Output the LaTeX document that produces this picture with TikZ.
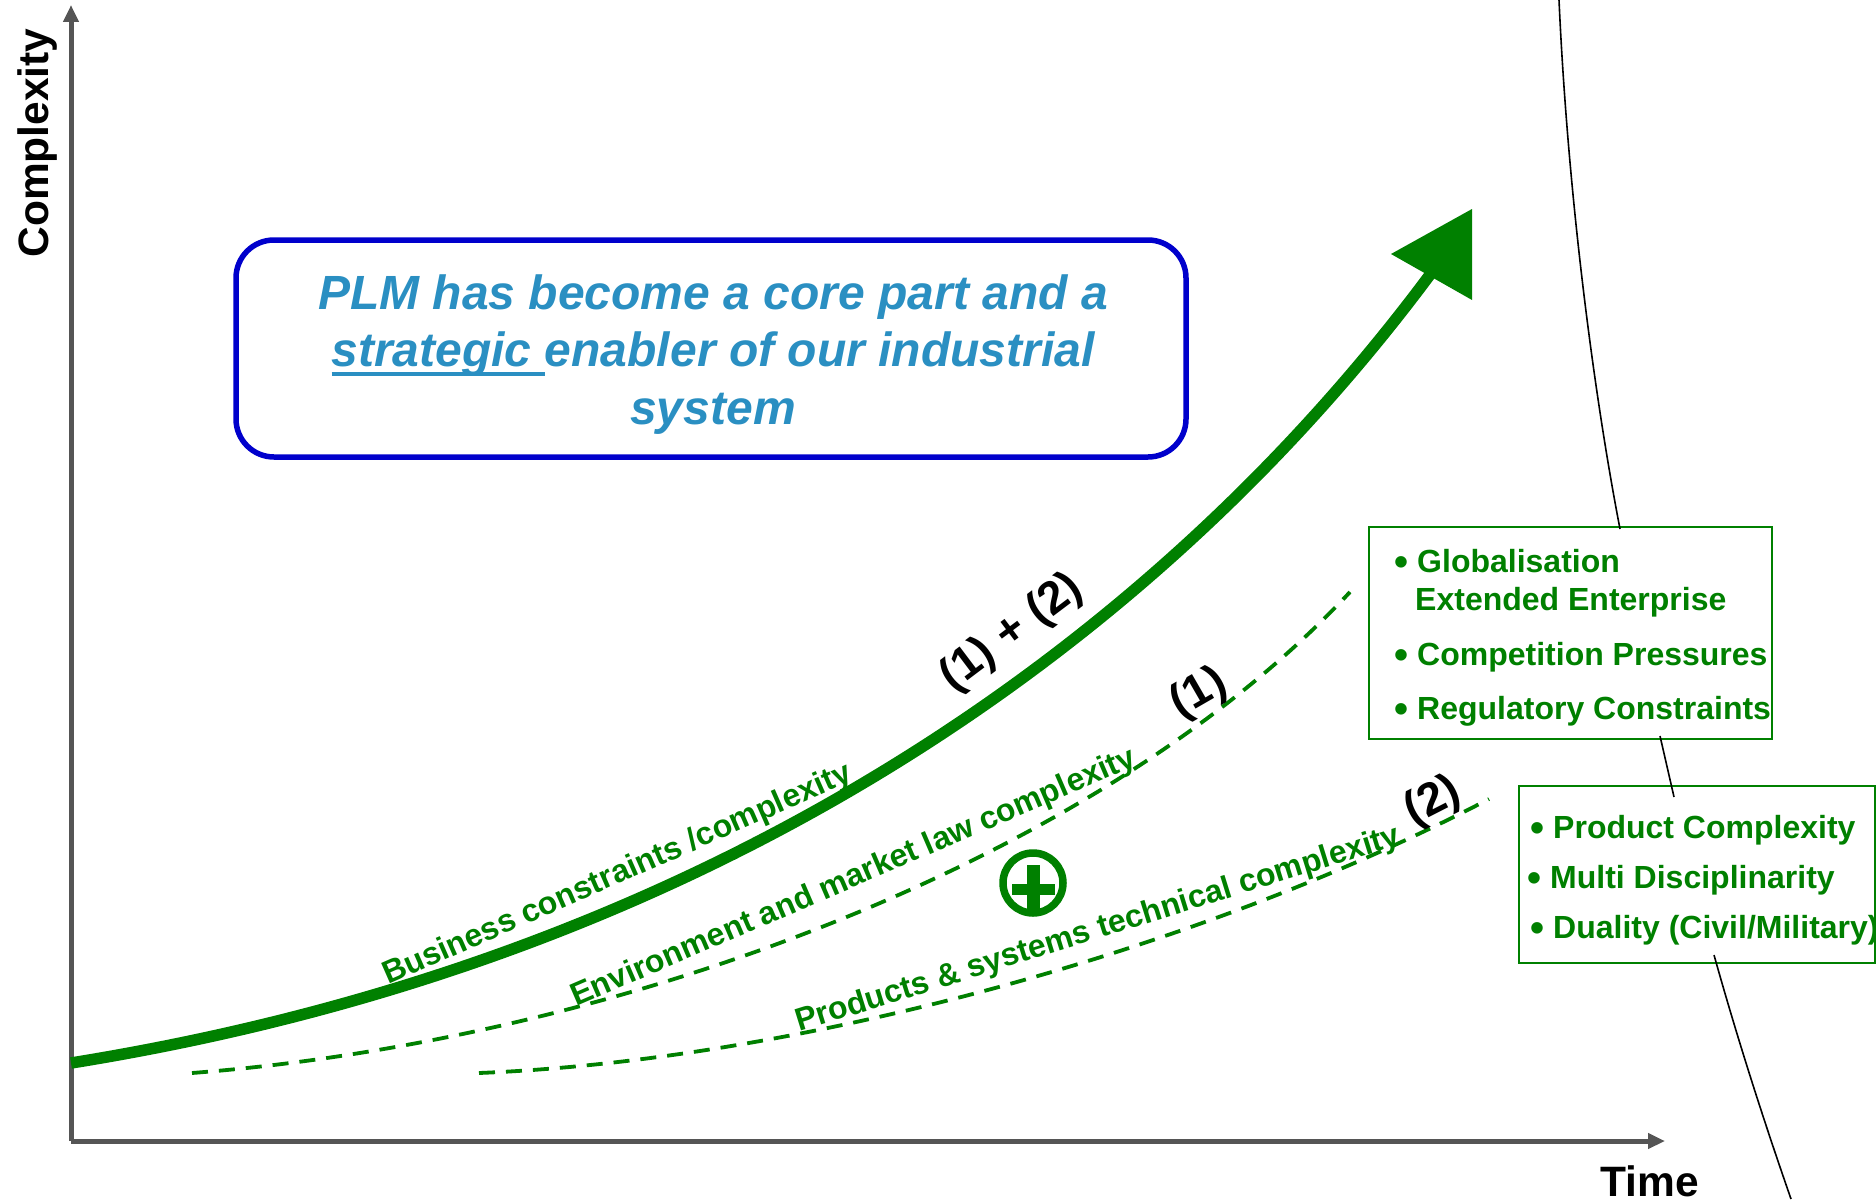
\documentclass[tikz,border=0pt]{standalone}
\usepackage{fontspec}
\setmainfont{Liberation Sans}
\usetikzlibrary{arrows.meta}
\definecolor{plmgreen}{HTML}{008000}
\definecolor{plmblue}{HTML}{0000CC}
\definecolor{plmtext}{HTML}{2A8FC2}
\definecolor{axisgrey}{HTML}{555555}
\newcommand\plmul[1]{\setbox0\hbox{#1}\rlap{\rule[-9pt]{\wd0}{3.5pt}}\box0}
\newcommand\fsz[1]{\fontsize{#1}{#1}\selectfont\bfseries}
\tikzset{
  axisline/.style={draw=axisgrey,line width=5pt,-{Triangle[length=17pt,width=15pt]}},
  thinblack/.style={draw=black,line width=1.6pt},
  dashcurve/.style={draw=plmgreen,line width=3.8pt,dash pattern=on 16pt off 11pt},
  listbox/.style={draw=plmgreen,line width=1.5pt,fill=white,rectangle,inner sep=0pt},
  listitem/.style={anchor=base west,inner sep=0pt,text=plmgreen,font=\fsz{32}},
  curvelabel/.style={anchor=base west,inner sep=0pt,text=plmgreen,font=\fsz{32}},
  marklabel/.style={inner sep=0pt,text=black,font=\fsz{46}},
  axislabel/.style={inner sep=0pt,text=black,font=\fsz{42.5}},
}
\newcommand\blt{\llap{\raisebox{-3pt}{\fontsize{40}{40}\selectfont •}\hspace{8.5pt}}}
\begin{document}
\begin{tikzpicture}[x=1pt,y=-1pt]
\useasboundingbox (0,0) rectangle (1876,1199);
% axes
\coordinate (origin) at (71,1141);
\coordinate (ytip) at (71,5);
\coordinate (xtip) at (1665,1141);
\draw[axisline] (origin) -- (ytip);
\draw[axisline] (origin) -- (xtip);
\node[axislabel,rotate=90,anchor=base] (ylab) at (48,143) {Complexity};
\node[axislabel,anchor=base west] (xlab) at (1600,1196) {Time};
% black thin curve
\coordinate (k0) at (1559,0);
\coordinate (k1) at (1620,529);
\coordinate (k2) at (1660,736);
\coordinate (k3) at (1674,797);
\coordinate (k4) at (1714,955);
\coordinate (k5) at (1791,1199);
% boxes
\node[listbox,minimum width=403pt,minimum height=212pt] (box1) at (1570.5,633) {};
\node[listbox,minimum width=356pt,minimum height=177pt] (box2) at (1697,874.5) {};
\draw[thinblack] (k0) .. controls (1568,200) and (1595,400) .. (k1);
\draw[thinblack] (k2) -- (k3);
\draw[thinblack] (k4) .. controls (1735,1030) and (1760,1110) .. (k5);
\node[listitem] (g1) at (1417,572) {\blt Globalisation};
\node[listitem] (g2) at (1415,610) {Extended Enterprise};
\node[listitem] (g3) at (1417,665) {\blt Competition Pressures};
\node[listitem] (g4) at (1417,719) {\blt Regulatory Constraints};
\node[listitem] (p1) at (1553,838) {\blt Product Complexity};
\node[listitem] (p2) at (1550,888) {\blt Multi Disciplinarity};
\node[listitem] (p3) at (1553,938) {\blt Duality (Civil/Military)};
% main arrow
\coordinate (m0) at (71,1063);
\coordinate (m1) at (1432,272);
\draw[draw=plmgreen,line width=11.5pt] (m0) .. controls (700,962) and (1150,652) .. (m1);
\coordinate (h1) at (1391,254);
\coordinate (h2) at (1472,209);
\coordinate (h3) at (1472,300);
\fill[plmgreen] (h1) -- (h2) -- (h3) -- cycle;
% dashed curves
\coordinate (d10) at (192,1073);
\coordinate (d11) at (1350,592);
\draw[dashcurve] (d10) .. controls (620,1040) and (1100,860) .. (d11);
\coordinate (d20) at (479,1073);
\coordinate (d21) at (1489,799);
\draw[dashcurve] (d20) .. controls (800,1060) and (1200,950) .. (d21);
% curve labels
\node[curvelabel,rotate=23.7] (lb1) at (388,985) {Business constraints /complexity};
\node[curvelabel,rotate=23.3] (lb2) at (576,1007) {Environment and market law complexity};
\node[curvelabel,rotate=17.3] (lb3) at (799,1032) {Products \& systems technical complexity};
\node[marklabel,rotate=37] (m12) at (1012,633) {(1) + (2)};
\node[marklabel,rotate=30] (m1l) at (1199,694) {(1)};
\node[marklabel,rotate=27] (m2l) at (1433,802) {(2)};
% plus
\node[circle,draw=plmgreen,line width=7.5pt,minimum size=60pt,inner sep=0pt] (plus) at (1033,883) {};
\fill[plmgreen] ([xshift=-21.5pt,yshift=-0.5pt]plus.center) rectangle ([xshift=21.5pt,yshift=-11.5pt]plus.center);
\fill[plmgreen] ([xshift=-6.5pt,yshift=18pt]plus.center) rectangle ([xshift=6.5pt,yshift=-26pt]plus.center);
% message box
\node[draw=plmblue,line width=5.5pt,rounded corners=38pt,fill=white,minimum width=950pt,minimum height=217pt,inner sep=0pt] (msg) at (711,348.5) {};
\node[inner sep=0pt,text=plmtext,align=center,font={\fontsize{48}{57.5}\selectfont\bfseries\itshape}] (msgtext) at (713,354.5)
  {PLM has become a core part and a\\ \plmul{strategic\ }enabler of our industrial\\ system};
\end{tikzpicture}
\end{document}
